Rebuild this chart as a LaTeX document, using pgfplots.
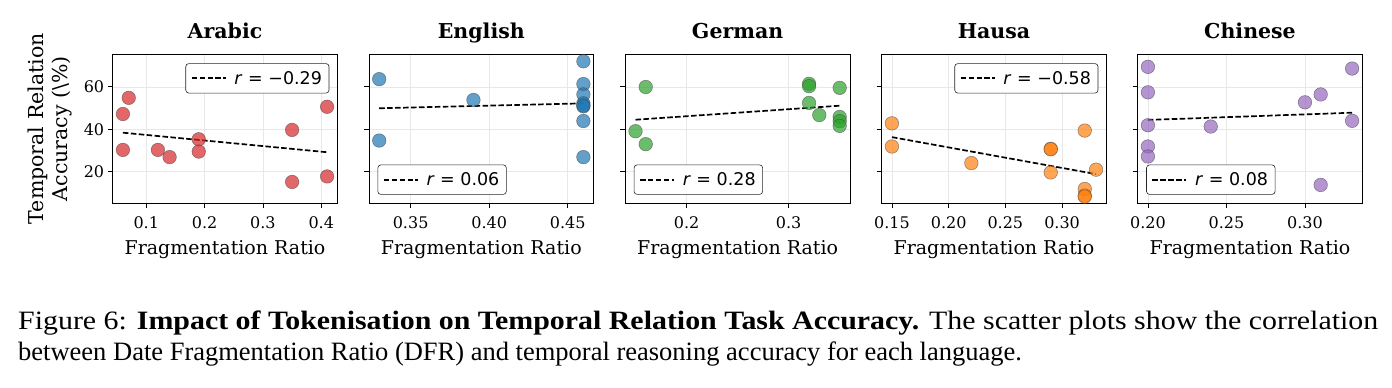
\documentclass[border=0pt]{standalone}
\usepackage{fontspec}
\setmainfont{DejaVu Serif}
\setsansfont{DejaVu Sans}
\newfontfamily\capfont{Liberation Serif}
\usepackage{pgfplots}
\pgfplotsset{compat=1.18}
\definecolor{tred}{RGB}{214,39,40}
\definecolor{tblue}{RGB}{31,119,180}
\definecolor{tgreen}{RGB}{44,160,44}
\definecolor{torange}{RGB}{255,127,14}
\definecolor{tpurple}{RGB}{148,103,189}
\newcommand{\legr}[1]{\hspace{6pt}\textit{r} = #1}
\pgfplotsset{
  panel/.style={
    scale only axis, width=224.6pt, height=148.7pt,
    ymin=5.3, ymax=75.3, ytick={20,40,60},
    grid=major, grid style={black!9, line width=0.6pt},
    axis line style={line width=0.8pt},
    tick style={black, line width=0.8pt},
    tick align=outside, major tick length=5pt,
    xtick pos=bottom, ytick pos=left,
    tick label style={font=\fontsize{16}{18}\selectfont},
    xticklabel style={anchor=base, yshift=-21pt},
    xlabel={Fragmentation Ratio},
    xlabel style={font=\fontsize{19}{22}\selectfont, at={(axis description cs:0.5,0)}, anchor=base, yshift=-51.7pt},
    title style={font=\fontsize{20.5}{24}\selectfont\bfseries, at={(axis description cs:0.5,1)}, anchor=base, yshift=10.3pt},
    legend style={draw=black!85, rounded corners=3pt, fill=white, line width=0.6pt,
      font=\sffamily\fontsize{17.5}{19}\selectfont, inner xsep=5pt, inner ysep=5.5pt},
    legend cell align=left,
    legend image code/.code={\draw[black, line width=1.7pt, dash pattern=on 5.55pt off 2.4pt] (0pt,0pt) -- (34pt,0pt);},
  },
  ur/.style={legend style={at={(1,1)}, anchor=north east, xshift=-8pt, yshift=-9pt}},
  ll/.style={legend style={at={(0,0)}, anchor=south west, xshift=8.5pt, yshift=8.3pt}},
  pts/.style={only marks, mark=*, mark size=6.8pt, forget plot,
    mark options={fill=#1, fill opacity=0.7, draw=black!75, draw opacity=0.6, line width=0.5pt}},
  fit/.style={black, line width=1.7pt, dash pattern=on 5.55pt off 2.4pt},
}
\begin{document}
\begin{tikzpicture}[x=1pt,y=1pt]
\useasboundingbox (0,0) rectangle (1392,-388);

% Arabic
\begin{axis}[panel, ur, at={(112.7pt,-54.3pt)}, anchor=north west,
  title={Arabic}, xmin=0.0425, xmax=0.4275,
  xtick={0.1,0.2,0.3,0.4}, xticklabels={0.1,0.2,0.3,0.4},
  yticklabels={20,40,60}]
\addplot[pts=tred] coordinates {(0.06,30.3) (0.06,47.2) (0.07,54.8) (0.12,30.3) (0.14,26.9) (0.19,35.3) (0.19,29.5) (0.35,39.7) (0.35,15.2) (0.41,50.6) (0.41,17.8)};
\addplot[fit] coordinates {(0.06,38.4) (0.41,29.2)};
\addlegendentry{\legr{−0.29}}
\end{axis}

% English
\begin{axis}[panel, ll, at={(369pt,-54.3pt)}, anchor=north west,
  title={English}, xmin=0.3235, xmax=0.4665,
  xtick={0.35,0.40,0.45}, xticklabels={0.35,0.40,0.45},
  yticklabels={}]
\addplot[pts=tblue] coordinates {(0.33,63.6) (0.33,34.7) (0.39,53.8) (0.46,72.0) (0.46,61.3) (0.46,56.4) (0.46,52.2) (0.46,50.8) (0.46,51.2) (0.46,43.9) (0.46,26.9)};
\addplot[fit] coordinates {(0.33,49.9) (0.46,52.2)};
\addlegendentry{\legr{0.06}}
\end{axis}

% German
\begin{axis}[panel, ll, at={(625.3pt,-54.3pt)}, anchor=north west,
  title={German}, xmin=0.14, xmax=0.36,
  xtick={0.2,0.3}, xticklabels={0.2,0.3},
  yticklabels={}]
\addplot[pts=tgreen] coordinates {(0.15,39.1) (0.16,59.9) (0.16,33.0) (0.32,61.4) (0.32,60.3) (0.32,52.4) (0.33,46.7) (0.35,59.5) (0.35,45.8) (0.35,43.8) (0.35,41.6)};
\addplot[fit] coordinates {(0.15,44.5) (0.35,51.1)};
\addlegendentry{\legr{0.28}}
\end{axis}

% Hausa
\begin{axis}[panel, ur, at={(881.7pt,-54.3pt)}, anchor=north west,
  title={Hausa}, xmin=0.141, xmax=0.339,
  xtick={0.15,0.20,0.25,0.30}, xticklabels={0.15,0.20,0.25,0.30},
  yticklabels={}]
\addplot[pts=torange] coordinates {(0.15,42.8) (0.15,31.9) (0.22,24.1) (0.29,30.8) (0.29,30.6) (0.29,19.7) (0.32,39.4) (0.32,11.9) (0.32,8.8) (0.32,8.3) (0.33,21.0)};
\addplot[fit] coordinates {(0.15,36.3) (0.33,18.9)};
\addlegendentry{\legr{−0.58}}
\end{axis}

% Chinese
\begin{axis}[panel, ll, at={(1137.7pt,-54.3pt)}, anchor=north west,
  title={Chinese}, xmin=0.1935, xmax=0.3365,
  xtick={0.20,0.25,0.30}, xticklabels={0.20,0.25,0.30},
  yticklabels={}]
\addplot[pts=tpurple] coordinates {(0.20,69.4) (0.20,57.4) (0.20,41.9) (0.20,31.9) (0.20,27.2) (0.24,41.3) (0.30,52.7) (0.31,56.4) (0.31,13.8) (0.33,68.6) (0.33,44.0)};
\addplot[fit] coordinates {(0.20,44.4) (0.33,47.8)};
\addlegendentry{\legr{0.08}}
\end{axis}

\node[rotate=90, align=center, font=\fontsize{20.5}{24}\selectfont] at (50,-128.7)
  {Temporal Relation\\Accuracy (\textbackslash\%)};

\node[anchor=base west, inner sep=0pt] at (18,-329) {\capfont\fontsize{26.5}{31.8}\selectfont
\resizebox{1360pt}{\height}{Figure 6: \textbf{Impact of Tokenisation on Temporal Relation Task Accuracy.} The scatter plots show the correlation}};
\node[anchor=base west, inner sep=0pt] at (18,-360.8) {\capfont\fontsize{26.5}{31.8}\selectfont
between Date Fragmentation Ratio (DFR) and temporal reasoning accuracy for each language.};
\end{tikzpicture}
\end{document}
